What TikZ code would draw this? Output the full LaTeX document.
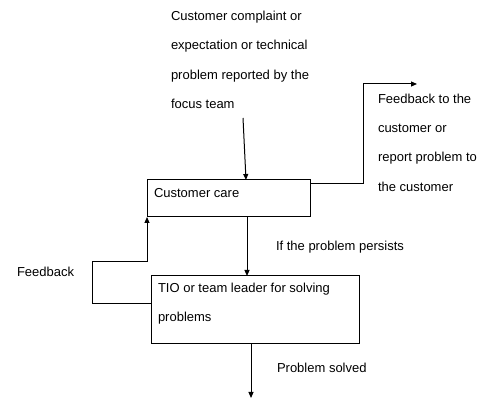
\documentclass[tikz,border=0pt]{standalone}
\usepackage{fontspec}
\setmainfont{Liberation Sans}
\usepackage{tikz}
\usetikzlibrary{arrows.meta,positioning,calc}
\definecolor{fink}{HTML}{000000}

\begin{document}
\begin{tikzpicture}[x=1pt,y=-1pt,every node/.style={font=\fontsize{13}{29.3}\selectfont,inner sep=0pt,outer sep=0pt},
  flowbox/.style={draw=fink,line width=1pt,anchor=north west},
  txt/.style={anchor=base west,text=fink},
  mtxt/.style={anchor=north west,align=left,text=fink},
  flow/.style={draw=fink,line width=1pt,-{Triangle[length=6pt,width=5pt]}}]
  \useasboundingbox (0,0) rectangle (493,419);

  % boxes
  \node[flowbox,minimum width=163pt,minimum height=37pt] (care) at (147,180) {};
  \node[flowbox,minimum width=208pt,minimum height=68pt] (tio) at (151,276) {};
  \node[txt] (caretext) at (154,197.3) {Customer care};
  \node[mtxt] (tiotext) at (158,282.8) {TIO or team leader for solving\\problems};

  % labels
  \node[mtxt] (complaint) at (171,11.2) {Customer complaint or\\expectation or technical\\problem reported by the\\focus team};
  \node[mtxt] (report) at (378,93.8) {Feedback to the\\customer or\\report problem to\\the customer};
  \node[txt] (feedback) at (17,276.7) {Feedback};
  \node[txt] (persists) at (276,251) {If the problem persists};
  \node[txt] (solved) at (277,372.7) {Problem solved};

  % connectors
  \coordinate (reported) at (243,118);
  \coordinate (reportout) at (417,84);
  \coordinate (loop) at (92,262);
  \coordinate (solvedend) at (251,398);
  \draw[flow] (reported) -- ($(care.north west)+(99,0)$);
  \draw[flow] ($(care.north east)+(0,4)$) -- ++(53,0) |- (reportout);
  \draw[flow] ($(care.south west)+(100,0)$) -- ($(tio.north west)+(96,0)$);
  \draw[flow] ($(tio.north west)+(0,28)$) -| (loop) -| (care.south west);
  \draw[flow] ($(tio.south west)+(100,0)$) -- (solvedend);
\end{tikzpicture}
\end{document}
